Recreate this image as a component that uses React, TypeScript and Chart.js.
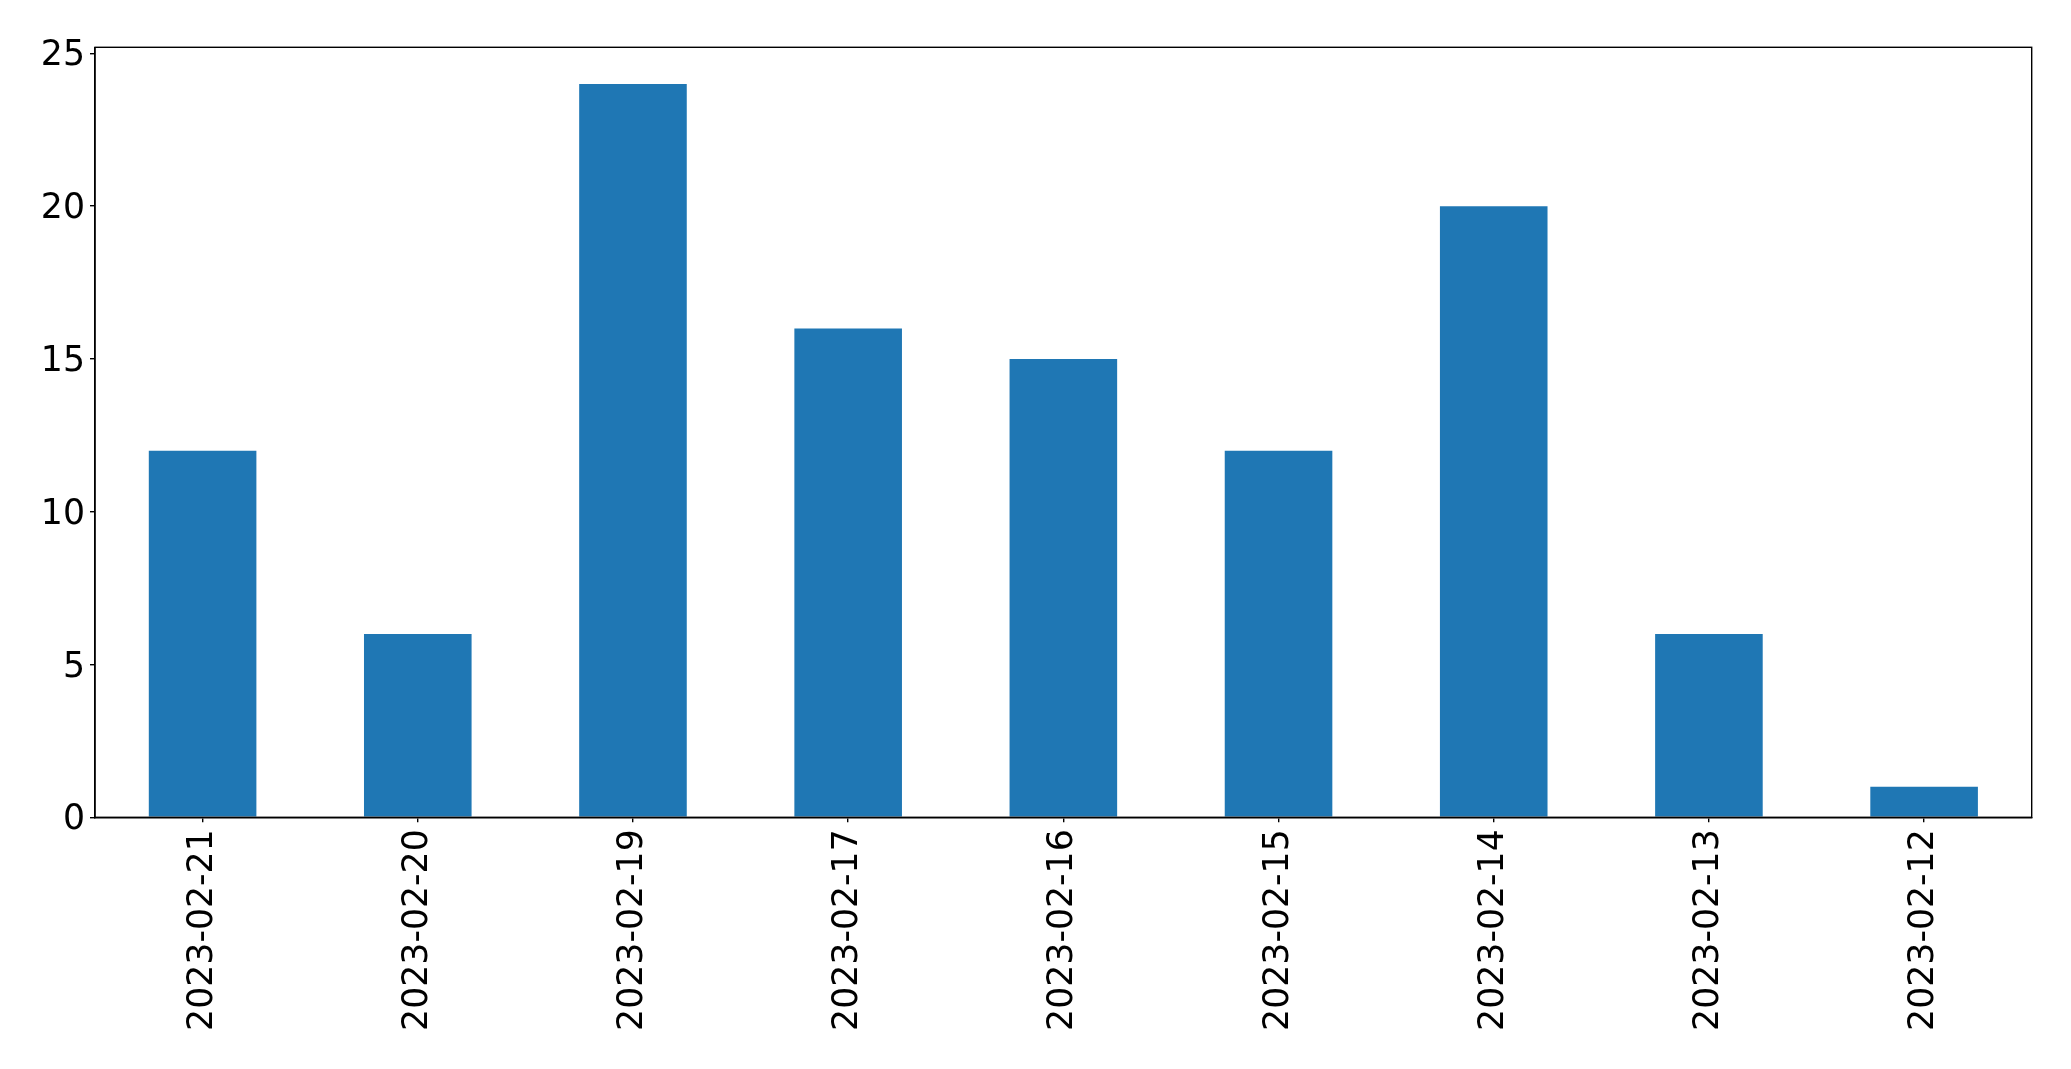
import React, { useEffect, useRef } from "react";
import { Chart, registerables } from "chart.js";

Chart.register(...registerables);

const categories: string[] = [
  "2023-02-21",
  "2023-02-20",
  "2023-02-19",
  "2023-02-17",
  "2023-02-16",
  "2023-02-15",
  "2023-02-14",
  "2023-02-13",
  "2023-02-12",
];
const values: number[] = [12, 6, 24, 16, 15, 12, 20, 6, 1];
const yTicks: number[] = [0, 5, 10, 15, 20, 25];
const yMax = 25.2;

const W = 2071;
const H = 1069;
const FONT = { family: "'DejaVu Sans', sans-serif", size: 34.7 };

const framePlugin = {
  id: "frame",
  afterDraw(chart: any) {
    const { ctx, chartArea } = chart;
    ctx.save();
    ctx.strokeStyle = "#000";
    ctx.lineWidth = 1.4;
    ctx.strokeRect(
      chartArea.left,
      chartArea.top,
      chartArea.right - chartArea.left,
      chartArea.bottom - chartArea.top
    );
    ctx.restore();
  },
};

export default function App() {
  const ref = useRef<HTMLCanvasElement | null>(null);
  useEffect(() => {
    if (!ref.current) return;
    const chart = new Chart(ref.current, {
      type: "bar",
      data: {
        labels: categories,
        datasets: [
          {
            data: values,
            backgroundColor: "#1f77b4",
            borderWidth: 0,
            categoryPercentage: 1,
            barPercentage: 0.5,
          },
        ],
      },
      options: {
        responsive: false,
        animation: false,
        devicePixelRatio: 1,
        layout: { padding: { left: 0, right: 39.3, top: 47.3, bottom: 0 } },
        plugins: {
          legend: { display: false },
          tooltip: { enabled: false },
        },
        scales: {
          x: {
            offset: true,
            grid: {
              offset: false,
              drawOnChartArea: false,
              drawTicks: true,
              tickLength: 5,
              color: "#000",
              lineWidth: 1.4,
            },
            border: { display: true, color: "#000", width: 1.4 },
            ticks: {
              color: "#000",
              font: FONT,
              minRotation: 90,
              maxRotation: 90,
              autoSkip: false,
              padding: 7,
            },
            afterFit(scale: any) {
              scale.height = H - 817.3;
            },
          },
          y: {
            min: 0,
            max: yMax,
            grid: {
              drawOnChartArea: false,
              drawTicks: true,
              tickLength: 5,
              color: "#000",
              lineWidth: 1.4,
            },
            border: { display: true, color: "#000", width: 1.4 },
            ticks: {
              color: "#000",
              font: FONT,
              padding: 5,
              labelOffset: 3,
            },
            afterBuildTicks(scale: any) {
              scale.ticks = yTicks.map((v) => ({ value: v }));
            },
            afterFit(scale: any) {
              scale.width = 95;
            },
          },
        },
      },
      plugins: [framePlugin],
    });
    return () => chart.destroy();
  }, []);
  return (
    <div style={{ position: "absolute", left: 0, top: 0, width: W, height: H, background: "#fff" }}>
      <canvas ref={ref} width={W} height={H} style={{ width: W, height: H, display: "block" }} />
    </div>
  );
}
